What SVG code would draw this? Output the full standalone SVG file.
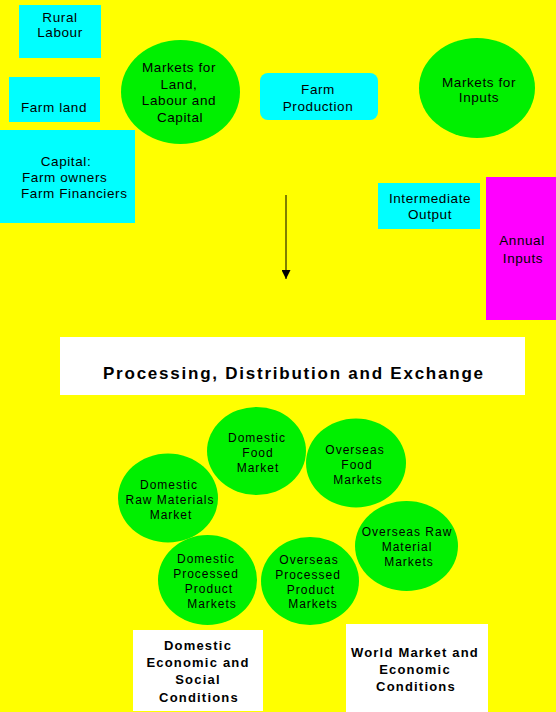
<svg xmlns="http://www.w3.org/2000/svg" width="556" height="712" viewBox="0 0 556 712">
<style>
.bg{fill:#ffff00}
.cy{fill:#00ffff}
.gr{fill:#00f000}
.mg{fill:#ff00ff}
.wh{fill:#ffffff}
text{font-family:"Liberation Sans",Arial,sans-serif;fill:#000;text-anchor:middle}
.t{font-size:13.5px;letter-spacing:0.6px}
.s{font-size:12px;letter-spacing:1px}
.b{font-size:13px;font-weight:bold;letter-spacing:1.2px}
.h{font-size:17px;font-weight:bold}
</style>
<defs>
<marker id="ah" viewBox="0 0 10 10" refX="10" refY="5" markerWidth="10" markerHeight="9" markerUnits="userSpaceOnUse" orient="auto">
<path d="M0,0 L10,5 L0,10 Z" fill="#000"/>
</marker>
</defs>
<rect class="bg" x="0" y="0" width="556" height="712"/>

<g id="rural-labour">
<rect class="cy" x="19" y="5" width="82" height="53"/>
<text class="t" x="60" y="22">Rural</text>
<text class="t" x="60" y="37">Labour</text>
</g>
<g id="farm-land">
<rect class="cy" x="9" y="77" width="91" height="45"/>
<text class="t" x="54" y="112">Farm land</text>
</g>
<g id="capital">
<rect class="cy" x="0" y="130" width="135" height="93"/>
<text class="t" x="66" y="166">Capital:</text>
<text class="t" x="22" y="182" style="text-anchor:start">Farm owners</text>
<text class="t" x="21" y="198" style="text-anchor:start">Farm Financiers</text>
</g>
<g id="markets-land">
<ellipse class="gr" cx="180.5" cy="92" rx="59.5" ry="52"/>
<text class="t" x="179" y="72">Markets for</text>
<text class="t" x="179" y="89">Land,</text>
<text class="t" x="179" y="105">Labour and</text>
<text class="t" x="180" y="122">Capital</text>
</g>
<g id="farm-production">
<rect class="cy" x="260" y="73" width="118" height="47" rx="8" ry="8"/>
<text class="t" x="318" y="94">Farm</text>
<text class="t" x="318" y="111">Production</text>
</g>
<g id="markets-inputs">
<ellipse class="gr" cx="477" cy="88" rx="58" ry="50"/>
<text class="t" x="479" y="87">Markets for</text>
<text class="t" x="479" y="102">Inputs</text>
</g>
<g id="intermediate-output">
<rect class="cy" x="378" y="183" width="102" height="46"/>
<text class="t" x="430" y="203">Intermediate</text>
<text class="t" x="430" y="219">Output</text>
</g>
<g id="annual-inputs">
<rect class="mg" x="486" y="177" width="70" height="143"/>
<text class="t" x="522" y="245">Annual</text>
<text class="t" x="523" y="263">Inputs</text>
</g>

<g id="connectors">
<line x1="286" y1="195" x2="286" y2="279" stroke="#000" stroke-width="1" marker-end="url(#ah)"/>
</g>

<g id="processing">
<rect class="wh" x="60" y="337" width="465" height="58"/>
<text class="h" x="293" y="379" textLength="380" lengthAdjust="spacing">Processing, Distribution and Exchange</text>
</g>

<g id="domestic-food">
<ellipse class="gr" cx="256.5" cy="451" rx="49.5" ry="44"/>
<text class="s" x="257" y="442">Domestic</text>
<text class="s" x="258" y="457">Food</text>
<text class="s" x="258" y="472">Market</text>
</g>
<g id="overseas-food">
<ellipse class="gr" cx="356" cy="463" rx="50" ry="44.5"/>
<text class="s" x="355" y="454">Overseas</text>
<text class="s" x="357" y="469">Food</text>
<text class="s" x="358" y="484">Markets</text>
</g>
<g id="domestic-raw">
<ellipse class="gr" cx="168" cy="498" rx="50" ry="44.5"/>
<text class="s" x="169" y="489">Domestic</text>
<text class="s" x="170" y="504">Raw Materials</text>
<text class="s" x="171" y="519">Market</text>
</g>
<g id="overseas-raw">
<ellipse class="gr" cx="406.5" cy="546" rx="51.5" ry="45"/>
<text class="s" x="407" y="536">Overseas Raw</text>
<text class="s" x="407" y="551">Material</text>
<text class="s" x="409" y="566">Markets</text>
</g>
<g id="domestic-processed">
<ellipse class="gr" cx="207.5" cy="580" rx="49.5" ry="45"/>
<text class="s" x="206" y="563">Domestic</text>
<text class="s" x="206" y="578">Processed</text>
<text class="s" x="209" y="593">Product</text>
<text class="s" x="212" y="608">Markets</text>
</g>
<g id="overseas-processed">
<ellipse class="gr" cx="310" cy="581" rx="49" ry="44"/>
<text class="s" x="309" y="564">Overseas</text>
<text class="s" x="308" y="579">Processed</text>
<text class="s" x="311" y="594">Product</text>
<text class="s" x="313" y="608">Markets</text>
</g>

<g id="domestic-conditions">
<rect class="wh" x="133" y="630" width="130" height="81"/>
<text class="b" x="198" y="650">Domestic</text>
<text class="b" x="198" y="667">Economic and</text>
<text class="b" x="198" y="684">Social</text>
<text class="b" x="199" y="702">Conditions</text>
</g>
<g id="world-conditions">
<rect class="wh" x="346" y="624" width="142" height="88"/>
<text class="b" x="415" y="657">World Market and</text>
<text class="b" x="415" y="674">Economic</text>
<text class="b" x="416" y="691">Conditions</text>
</g>
</svg>
